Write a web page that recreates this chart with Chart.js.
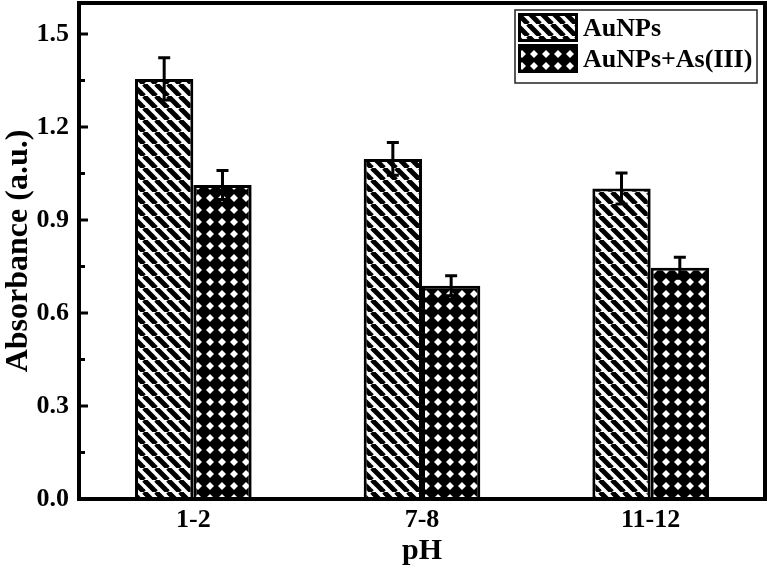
<!DOCTYPE html>
<html>
<head>
<meta charset="utf-8">
<script src="https://cdn.jsdelivr.net/npm/chart.js@4/dist/chart.umd.min.js"></script>
<style>
  html, body { margin: 0; padding: 0; background: #fff; }
  #chart { display: block; }
</style>
</head>
<body>
<canvas id="chart" width="767" height="569"></canvas>
<script>
const categories = ['1-2', '7-8', '11-12'];
const seriesNames = ['AuNPs', 'AuNPs+As(III)'];
const auNPs = [1.355, 1.097, 1.002];
const auNPsErr = [0.068, 0.053, 0.050];
const auNPsAs = [1.013, 0.688, 0.746];
const auNPsAsErr = [0.047, 0.032, 0.034];
const yTicks = [0, 0.3, 0.6, 0.9, 1.2, 1.5];

const FONT = "'Liberation Serif', 'Times New Roman', serif";

// hatch fills like the origin plot
function stripes() {
  const s = 12, c = document.createElement('canvas');
  c.width = s; c.height = s;
  const g = c.getContext('2d');
  g.fillStyle = '#fff'; g.fillRect(0, 0, s, s);
  g.strokeStyle = '#000'; g.lineWidth = 5;
  for (let k = -1; k <= 1; k++) {
    g.beginPath(); g.moveTo(k * s, 0); g.lineTo(k * s + s, s); g.stroke();
  }
  return g.createPattern(c, 'repeat');
}
function crosshatch() {
  const s = 12, c = document.createElement('canvas');
  c.width = s; c.height = s;
  const g = c.getContext('2d');
  g.fillStyle = '#000'; g.fillRect(0, 0, s, s);
  g.fillStyle = '#fff';
  const h = 4, m = s / 2;
  g.beginPath();
  g.moveTo(m, m - h); g.lineTo(m + h, m); g.lineTo(m, m + h); g.lineTo(m - h, m);
  g.closePath(); g.fill();
  return g.createPattern(c, 'repeat');
}
const fills = [stripes(), crosshatch()];
const errors = [auNPsErr, auNPsAsErr];

const errorBars = {
  id: 'errorBars',
  afterDatasetsDraw(chart) {
    const { ctx } = chart, y = chart.scales.y;
    ctx.save();
    ctx.strokeStyle = '#000';
    ctx.lineWidth = 3;
    chart.data.datasets.forEach((ds, i) => {
      chart.getDatasetMeta(i).data.forEach((bar, j) => {
        const v = ds.data[j], e = errors[i][j];
        const top = y.getPixelForValue(v + e), bot = y.getPixelForValue(v - e);
        ctx.beginPath();
        ctx.moveTo(bar.x, top); ctx.lineTo(bar.x, bot);
        ctx.moveTo(bar.x - 6, top); ctx.lineTo(bar.x + 6, top);
        ctx.moveTo(bar.x - 6, bot); ctx.lineTo(bar.x + 6, bot);
        ctx.stroke();
      });
    });
    ctx.restore();
  }
};

// frame, inward ticks, boxed legend
const frame = {
  id: 'frame',
  afterDraw(chart) {
    const { ctx, chartArea: a } = chart, y = chart.scales.y;
    ctx.save();
    ctx.strokeStyle = '#000';
    ctx.lineWidth = 4;
    ctx.strokeRect(a.left, a.top, a.right - a.left, a.bottom - a.top);
    ctx.lineWidth = 3;
    yTicks.forEach(t => {
      const p = y.getPixelForValue(t);
      ctx.beginPath(); ctx.moveTo(a.left, p); ctx.lineTo(a.left + 9, p); ctx.stroke();
      if (t + 0.15 < y.max) {
        const pm = y.getPixelForValue(t + 0.15);
        ctx.beginPath(); ctx.moveTo(a.left, pm); ctx.lineTo(a.left + 6, pm); ctx.stroke();
      }
    });

    const lx = a.right - 250, ly = a.top + 7;
    ctx.lineWidth = 1.5;
    ctx.strokeStyle = '#222';
    ctx.strokeRect(lx, ly, 242, 73);
    ctx.font = 'bold 26px ' + FONT;
    ctx.textBaseline = 'middle';
    seriesNames.forEach((name, i) => {
      const by = ly + 3 + i * 31;
      ctx.fillStyle = fills[i];
      ctx.fillRect(lx + 3, by, 60, 29);
      ctx.lineWidth = 3;
      ctx.strokeStyle = '#000';
      ctx.strokeRect(lx + 4.5, by + 1.5, 57, 26);
      ctx.fillStyle = '#000';
      ctx.fillText(name, lx + 68, by + 16);
    });
    ctx.restore();
  }
};

new Chart(document.getElementById('chart'), {
  type: 'bar',
  data: {
    labels: categories,
    datasets: [
      { label: seriesNames[0], data: auNPs, backgroundColor: fills[0], borderColor: '#000', borderWidth: 3 },
      { label: seriesNames[1], data: auNPsAs, backgroundColor: fills[1], borderColor: '#000', borderWidth: 3 }
    ]
  },
  options: {
    responsive: false,
    animation: false,
    devicePixelRatio: 1,
    layout: { padding: { top: 3, right: 2 } },
    datasets: { bar: { categoryPercentage: 0.51, barPercentage: 1.0 } },
    plugins: { legend: { display: false }, tooltip: { enabled: false } },
    scales: {
      x: {
        grid: { display: false, drawTicks: false },
        border: { display: false },
        ticks: { color: '#000', font: { family: FONT, size: 26, weight: 'bold' }, padding: 6 },
        title: { display: true, text: 'pH', color: '#000', font: { family: FONT, size: 30, weight: 'bold' }, padding: 0 },
        afterFit(scale) {
          scale.height = 70;
          scale.paddingLeft = 0; scale.paddingRight = 0;
        }
      },
      y: {
        min: 0,
        max: 1.6,
        grid: { display: false, drawTicks: false },
        border: { display: false },
        afterBuildTicks(scale) { scale.ticks = yTicks.map(v => ({ value: v })); },
        ticks: {
          color: '#000',
          font: { family: FONT, size: 26, weight: 'bold' },
          padding: 10,
          callback: v => v.toFixed(1)
        },
        title: { display: true, text: 'Absorbance (a.u.)', color: '#000', font: { family: FONT, size: 32, weight: 'bold' }, padding: 0 },
        afterFit(scale) {
          scale.width = 79;
          scale.paddingTop = 0; scale.paddingBottom = 0;
        }
      }
    }
  },
  plugins: [errorBars, frame]
});
</script>
</body>
</html>
